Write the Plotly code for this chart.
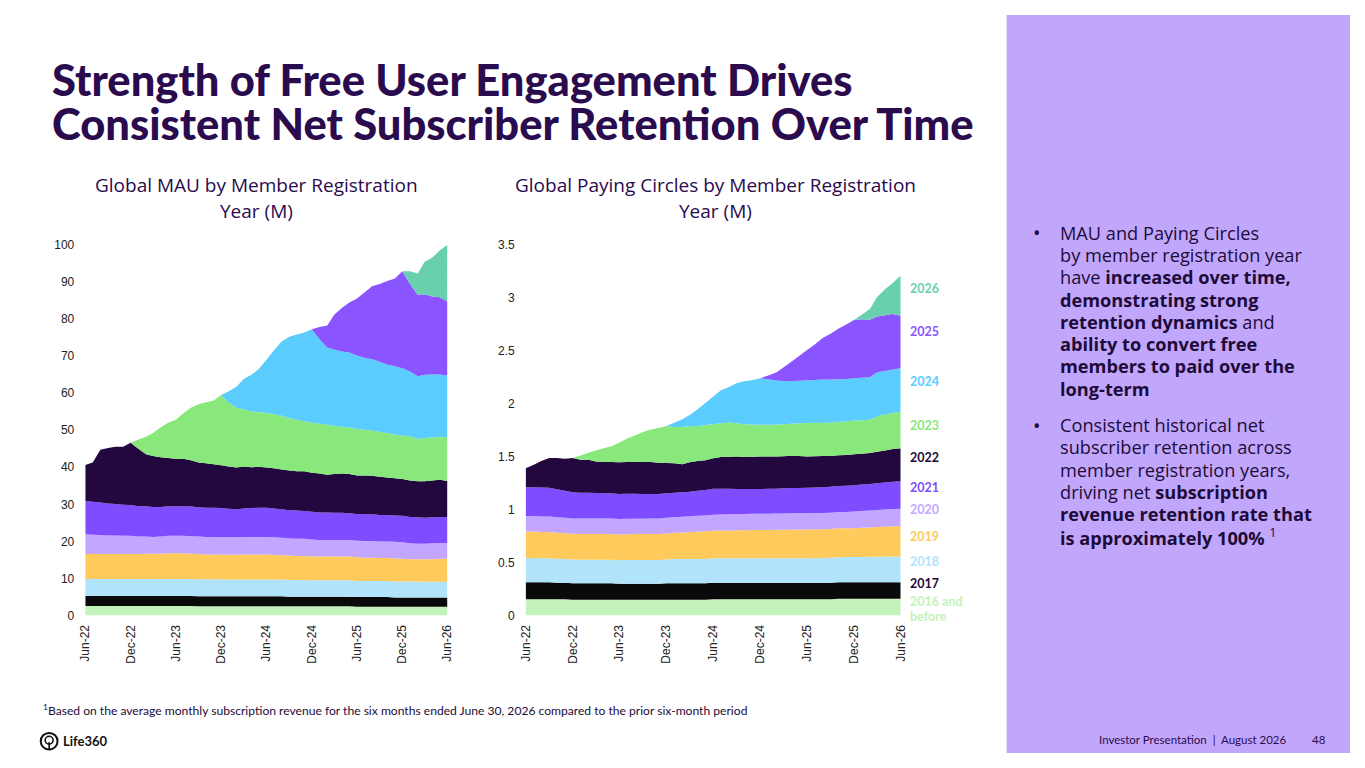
import plotly.graph_objects as go
import pandas as pd

# ---------------- DATA ----------------
months = pd.date_range("2022-06-01", "2026-06-01", freq="MS")
tick_dates = pd.date_range("2022-06-01", "2026-06-01", freq="6MS")
tick_labels = ["Jun-22", "Dec-22", "Jun-23", "Dec-23", "Jun-24",
               "Dec-24", "Jun-25", "Dec-25", "Jun-26"]

cohorts = ["2016 and before", "2017", "2018", "2019", "2020", "2021",
           "2022", "2023", "2024", "2025", "2026"]

# Global MAU by member registration year (M), monthly Jun-22 .. Jun-26
mau_2016 = [2.6,2.6,2.6,2.6,2.6,2.6,2.6,2.6,2.6,2.6,2.6,2.6,2.6,2.6,2.6,
            2.5,2.5,2.5,2.5,2.5,2.5,2.5,2.5,2.5,2.5,2.5,2.5,2.5,2.5,2.5,2.5,2.5,2.5,2.5,2.5,2.5,
            2.4,2.4,2.4,2.4,2.4,2.4,2.4,2.4,2.4,2.4,2.4,2.4,2.4]
mau_2017 = [2.7,2.7,2.7,2.7,2.7,2.7,2.7,2.7,2.7,2.7,2.7,2.7,2.7,2.7,2.7,2.7,2.7,2.7,
            2.7,2.7,2.7,2.7,2.7,2.7,2.7,2.7,2.7,
            2.6,2.6,2.6,2.6,2.6,2.6,2.6,2.6,2.6,2.6,2.6,2.6,2.6,2.6,
            2.5,2.5,2.5,2.5,2.5,2.5,2.5,2.5]
mau_2018 = [4.6,4.6,4.6,4.6,4.6,4.6,4.6,4.6,4.6,4.6,4.6,4.6,4.6,4.6,4.6,4.6,4.6,4.6,
            4.5,4.5,4.5,4.5,4.5,4.5,4.5,4.5,4.5,4.5,4.5,4.5,
            4.4,4.4,4.4,4.4,4.4,4.4,
            4.3,4.3,4.3,4.3,4.3,4.3,4.3,4.3,4.3,
            4.2,4.2,4.2,4.2]
mau_2019 = [6.7,6.7,6.7,6.7,6.7,6.7, 6.7,6.7,6.8,6.8,6.8,6.9, 6.9,6.9,6.8,6.8,6.7,6.7,
            6.7,6.7,6.7,6.8,6.8,6.8, 6.8,6.7,6.6,6.6,6.5,6.5, 6.4,6.4,6.4,6.4,6.4,6.4,
            6.4,6.3,6.3,6.2,6.2,6.2, 6.1,6.0,6.0,6.1,6.1,6.2, 6.2]
mau_2020 = [5.3,5.2,5.1,5.0,5.0,4.9,4.9,4.7,4.6,4.5,4.6,4.7,4.7,
            4.7,4.7,4.7,4.7,4.7,4.7,4.7,4.7,4.7,4.7,4.7,4.7,
            4.7,4.7,4.6,4.6,4.6,4.6, 4.5,4.5,4.5,4.5,4.5,4.5, 4.5,4.5,4.5,4.5,4.5,4.5,
            4.3,4.2,4.2,4.3,4.3,4.3]
mau_2021 = [9.0,8.9,8.8,8.6,8.5,8.4, 8.3,8.2,8.2,8.1,8.0,8.0, 8.0,8.0,8.0,7.9,7.9,7.9,
            7.9,7.7,7.6,7.7,7.8,7.9, 7.9,7.8,7.7,7.6,7.6,7.5, 7.5,7.4,7.4,7.3,7.3,7.2,
            7.2,7.2,7.2,7.1,7.1,7.1, 7.1,7.1,7.1,7.0,7.0,7.0, 7.0]
mau_2022 = [9.7,10.6,14.2,15.0,15.4,15.6, 16.8,15.5,14.0,13.7,13.4,13.0,
            12.8,12.8,12.5,12.1,12.0,11.7, 11.5,11.4,11.2,11.3,11.0,11.0,
            10.8,10.8,10.7,10.7,10.6,10.7, 10.5,10.5,10.2,10.5,10.6,10.6,
            10.4,10.5,10.4,10.3,10.1,10.0, 9.9,9.8,9.7,9.8,9.9,10.0, 9.7]
mau_2023 = [0,0,0,0,0,0, 0,2.5,4.7,6.2,8.0,9.5, 10.5,12.2,14.1,15.7,16.4,17.2,
            19.0,17.2,16.1,15.4,15.1,14.7, 14.8,14.6,14.5,14.1,13.9,13.5,
            13.5,13.4,13.5,13.0,12.6,12.5, 12.5,12.3,12.2,12.1,12.0,11.8,
            11.7,12.0,11.4,11.7,11.6,11.6, 11.8]
mau_2024 = [0,0,0,0,0,0,0,0,0,0,0,0,0,0,0,0,0,0,
            0,3.1,5.7,8.2,9.8,11.7, 14.3,17.2,20.0,22.0,23.0,23.9,
            25.2,22.8,20.8,20.5,20.3,20.2, 19.8,19.4,19.2,18.9,18.5,18.4,
            18.2,17.4,16.9,17.0,17.0,16.8, 16.6]
mau_2025 = [0,0,0,0,0,0,0,0,0,0,0,0,0,0,0,0,0,0,0,0,0,0,0,0,0,0,0,0,0,0,
            0,3.3,5.9,9.4,11.7,13.5, 15.4,17.6,19.7,21.0,22.5,23.7,
            26.1,23.6,22.0,21.7,21.0,20.8, 20.0]
mau_2026 = [0,0,0,0,0,0,0,0,0,0,0,0,0,0,0,0,0,0,0,0,0,0,0,0,0,0,0,0,0,0,
            0,0,0,0,0,0,0,0,0,0,0,0,
            0,3.4,5.7,8.8,10.5,12.6,15.3]

# Global Paying Circles by member registration year (M)
pay_2016 = [0.155,0.155,0.155,0.155,0.155,0.155,
            0.15,0.15,0.15,0.15,0.15,0.15,0.15,0.15,0.15,0.15,0.15,0.15,0.15,0.15,0.15,0.15,0.15,0.15,
            0.155,0.155,0.155,0.155,0.155,0.155,0.155,0.155,0.155,0.155,0.155,0.155,0.155,0.155,0.155,0.155,
            0.16,0.16,0.16,0.16,0.16,0.16,0.16,0.16,0.16]
pay_2017 = [0.16,0.16,0.16,0.16,
            0.155,0.155,0.155,0.155,0.155,0.155,0.155,0.155,
            0.15,0.15,0.15,0.15,0.15,0.15,
            0.155,0.155,0.155,0.155,0.155,0.155,0.155,0.155,0.155,0.155,0.155,0.155,0.155,0.155,0.155,0.155,
            0.155,0.155,0.155,0.155,0.155,0.155,0.155,0.155,0.155,0.155,0.155,0.155,0.155,0.155,0.155]
pay_2018 = [0.228,0.228,0.226,0.226,0.225,0.224,0.224,
            0.223,0.223,0.223,0.223,0.223,0.223,
            0.225,0.225,0.225,0.225,0.225,0.225,
            0.228,0.228,0.23,0.23,0.23,0.23,
            0.23,0.23,0.23,0.23,0.23,0.23,0.23,0.23,0.23,0.23,0.23,0.23,
            0.232,0.233,0.235,0.236,0.237,0.238,
            0.239,0.24,0.24,0.241,0.242,0.243]
pay_2019 = [0.25,0.25,0.248,0.247,0.246,0.244, 0.243,0.243,0.243,0.243,0.243,0.243,
            0.243,0.243,0.244,0.244,0.245,0.245, 0.245,0.248,0.25,0.254,0.257,0.26,
            0.262,0.263,0.264,0.265,0.266,0.267, 0.267,0.268,0.269,0.27,0.271,0.272,
            0.272,0.272,0.272,0.272,0.272,0.272, 0.272,0.274,0.277,0.28,0.283,0.285, 0.286]
pay_2020 = [0.147,0.147,0.147,0.146,0.146,0.145,
            0.145,0.145,0.145,0.145,0.145,0.145,0.145,0.145,0.145,0.145,0.145,0.145,
            0.148,0.148,0.149,0.149,0.15,0.15,
            0.15,0.151,0.152,0.152,0.153,0.153,
            0.154,0.154,0.154,0.154,0.154,0.154,0.154,0.154,0.154,0.154,0.154,0.154,
            0.158,0.159,0.16,0.161,0.162,0.163, 0.163]
pay_2021 = [0.271,0.272,0.272,0.272,0.265,0.255, 0.246,0.244,0.242,0.24,0.239,0.238,
            0.237,0.236,0.235,0.234,0.233,0.232, 0.231,0.231,0.231,0.231,0.236,0.24,
            0.244,0.242,0.24,0.238,0.236,0.234, 0.233,0.234,0.235,0.237,0.238,0.239,
            0.24,0.241,0.242,0.244,0.246,0.247, 0.248,0.249,0.25,0.252,0.255,0.258, 0.261]
pay_2022 = [0.179,0.21,0.25,0.28,0.296,0.302, 0.323,0.31,0.313,0.298,0.294,0.296,
            0.298,0.301,0.303,0.302,0.301,0.294, 0.286,0.277,0.265,0.277,0.28,0.28,
            0.289,0.30,0.302,0.305,0.302,0.305, 0.306,0.305,0.303,0.303,0.305,0.30,
            0.294,0.295,0.295,0.29,0.289,0.29, 0.292,0.291,0.292,0.297,0.302,0.31, 0.31]
pay_2023 = [0,0,0,0,0,0,0,
            0.04,0.065,0.103,0.129,0.149,
            0.184,0.221,0.248,0.283,0.308,0.329, 0.35,0.343,0.352,0.34,0.33,0.33,
            0.322,0.32,0.323,0.315,0.308,0.305, 0.30,0.30,0.30,0.302,0.302,0.31,
            0.318,0.315,0.312,0.316,0.316,0.317, 0.317,0.316,0.313,0.335,0.34,0.339, 0.345]
pay_2024 = [0,0,0,0,0,0,0,0,0,0,0,0,0,0,0,0,0,0,0,
            0.04,0.073,0.107,0.16,0.21,
            0.26,0.31,0.335,0.38,0.405,0.42, 0.44,0.43,0.418,0.407,0.40,0.40,
            0.402,0.405,0.41,0.406,0.402,0.40, 0.40,0.401,0.401,0.415,0.41,0.41, 0.41]
pay_2025 = [0,0,0,0,0,0,0,0,0,0,0,0,0,0,0,0,0,0,0,0,0,0,0,0,0,0,0,0,0,0,0,
            0.035,0.075,0.128,0.185,0.235,
            0.285,0.335,0.39,0.433,0.476,0.515, 0.55,0.552,0.544,0.526,0.525,0.523, 0.497]
pay_2026 = [0,0,0,0,0,0,0,0,0,0,0,0,0,0,0,0,0,0,0,0,0,0,0,0,0,0,0,0,0,0,
            0,0,0,0,0,0,0,0,0,0,0,0,0,
            0.045,0.10,0.184,0.245,0.292,0.38]

mau_series = [mau_2016, mau_2017, mau_2018, mau_2019, mau_2020, mau_2021,
              mau_2022, mau_2023, mau_2024, mau_2025, mau_2026]
pay_series = [pay_2016, pay_2017, pay_2018, pay_2019, pay_2020, pay_2021,
              pay_2022, pay_2023, pay_2024, pay_2025, pay_2026]

title_lines = ["Strength of Free User Engagement Drives",
               "Consistent Net Subscriber Retention Over Time"]
bullet1_lines = ["MAU and Paying Circles", "by member registration year",
                 "have <b>increased over time,</b>", "<b>demonstrating strong</b>",
                 "<b>retention dynamics</b> and", "<b>ability to convert free</b>",
                 "<b>members to paid over the</b>", "<b>long-term</b>"]
bullet2_lines = ["Consistent historical net", "subscriber retention across",
                 "member registration years,", "driving net <b>subscription</b>",
                 "<b>revenue retention rate that</b>",
                 "<b>is approximately 100%</b> <sup>1</sup>"]

# ---------------- STYLE ----------------
colors = ["#C3F2BA", "#0A0A0A", "#B1E4FB", "#FFCA5C", "#C3A6FF", "#7F4DFF",
          "#23073F", "#88E87B", "#5BCCFE", "#8A55FF", "#68D0AE"]
label_colors = ["#C3F2BA", "#1C0B33", "#B1E4FB", "#FFCA5C", "#C3A6FF", "#7F4DFF",
                "#1C0B33", "#88E87B", "#5BCCFE", "#8A55FF", "#68D0AE"]
label_y = [613, 587, 565, 539, 512, 489, 459, 426, 381, 331, 287]

# the page keeps the browser's 8px body margin, so the figure is sized to fit
# inside the 1365x768 window and positions are given in window pixels
PAGE_W, PAGE_H, OFF = 1365, 768, 8
W, H = PAGE_W - 2 * OFF, PAGE_H - 2 * OFF
DARK = "#2A0B4E"
TEXT = "#1E0B38"
BODY_FONT = "Open Sans"


def fx(px):
    return (px - OFF) / W


def fy(py):
    return 1 - (py - OFF) / H


fig = go.Figure()

for name, vals, col in zip(cohorts, mau_series, colors):
    fig.add_trace(go.Scatter(x=months, y=vals, name=name, stackgroup="mau",
                             mode="none", fillcolor=col, xaxis="x", yaxis="y",
                             hoverinfo="skip"))
for name, vals, col in zip(cohorts, pay_series, colors):
    fig.add_trace(go.Scatter(x=months, y=vals, name=name, stackgroup="pay",
                             mode="none", fillcolor=col, xaxis="x2", yaxis="y2",
                             hoverinfo="skip"))

tickfont = dict(family="Liberation Sans, Arial, sans-serif", size=12, color="#222222")
xcommon = dict(range=[months[0], months[-1]], tickvals=list(tick_dates),
               ticktext=tick_labels, tickangle=-90, showgrid=False,
               zeroline=False, showline=False, ticks="", tickfont=tickfont,
               ticklabelstandoff=6)
ycommon = dict(showgrid=False, zeroline=False, showline=False, ticks="",
               tickfont=tickfont, ticklabelstandoff=10)


def note(text, x, y, size, color, family=BODY_FONT, xanchor="left", weight=None):
    f = dict(family=family, size=size, color=color)
    if weight is not None:
        f["weight"] = weight
    return dict(text=text, x=fx(x), y=fy(y), xref="paper", yref="paper",
                xanchor=xanchor, yanchor="middle", showarrow=False, align="left",
                font=f)


annotations = []
# title
for txt, y in zip(title_lines, [73, 118]):
    annotations.append(note(txt, 43, y, 43.5, DARK, family="Lato", weight=900))
# chart subtitles
annotations.append(note("Global MAU by Member Registration", 252, 181, 19, DARK,
                        xanchor="center"))
annotations.append(note("Year (M)", 252, 208, 19, DARK, xanchor="center"))
annotations.append(note("Global Paying Circles by Member Registration", 716, 181, 19,
                        DARK, xanchor="center"))
annotations.append(note("Year (M)", 716, 208, 19, DARK, xanchor="center"))
# series labels
for name, col, y in zip(cohorts, label_colors, label_y):
    if name == "2016 and before":
        annotations.append(note("<b>2016 and</b>", 910, 606, 12.5, col, family="Lato"))
        annotations.append(note("<b>before</b>", 910, 621, 12.5, col, family="Lato"))
    else:
        annotations.append(note(f"<b>{name}</b>", 910, y, 12.5, col, family="Lato"))
# bullets
pitch = 22.67
for lines, y0 in [(bullet1_lines, 230), (bullet2_lines, 426)]:
    annotations.append(note("•", 1041, y0, 20, TEXT, xanchor="center"))
    for i, line in enumerate(lines):
        annotations.append(note(line, 1062, y0 + i * pitch, 18.2, TEXT))
# footnote
annotations.append(note(
    "<sup>1</sup>Based on the average monthly subscription revenue for the six months "
    "ended June 30, 2026 compared to the prior six-month period",
    34, 716, 12.1, TEXT, family="Lato"))
# logo text
annotations.append(note("<b>Life360</b>", 54, 748, 13, "#111111", family="Lato"))
# footer
annotations.append(note("Investor Presentation  |  August 2026", 1295, 746, 11.5, DARK,
                        family="Lato", xanchor="right"))
annotations.append(note("48", 1326, 746, 11.5, DARK, family="Lato", xanchor="center"))

shapes = [
    dict(type="rect", xref="paper", yref="paper", x0=fx(1010), x1=1, y0=0, y1=1,
         fillcolor="#C1A7FC", line=dict(width=0), layer="below"),
    dict(type="circle", xref="paper", yref="paper", x0=fx(34), x1=fx(51),
         y0=fy(756.5), y1=fy(739.5), line=dict(color="#111111", width=2)),
    dict(type="circle", xref="paper", yref="paper", x0=fx(38.5), x1=fx(46.5),
         y0=fy(751), y1=fy(743), line=dict(color="#111111", width=1.6)),
    dict(type="line", xref="paper", yref="paper", x0=fx(42.5), x1=fx(42.5),
         y0=fy(756), y1=fy(749), line=dict(color="#111111", width=1.6)),
]

fig.update_layout(
    width=W, height=H, margin=dict(l=0, r=0, t=0, b=0),
    paper_bgcolor="white", plot_bgcolor="rgba(0,0,0,0)", showlegend=False,
    xaxis=dict(domain=[fx(79), fx(445)], anchor="y", **xcommon),
    yaxis=dict(domain=[fy(620), fy(242)], range=[0, 100], dtick=10, anchor="x", **ycommon),
    xaxis2=dict(domain=[fx(524), fx(903)], anchor="y2", **xcommon),
    yaxis2=dict(domain=[fy(620), fy(242)], range=[0, 3.5], dtick=0.5, anchor="x2",
                **ycommon),
    annotations=annotations, shapes=shapes,
)

fig.write_html("out.html", config={"displayModeBar": False})
